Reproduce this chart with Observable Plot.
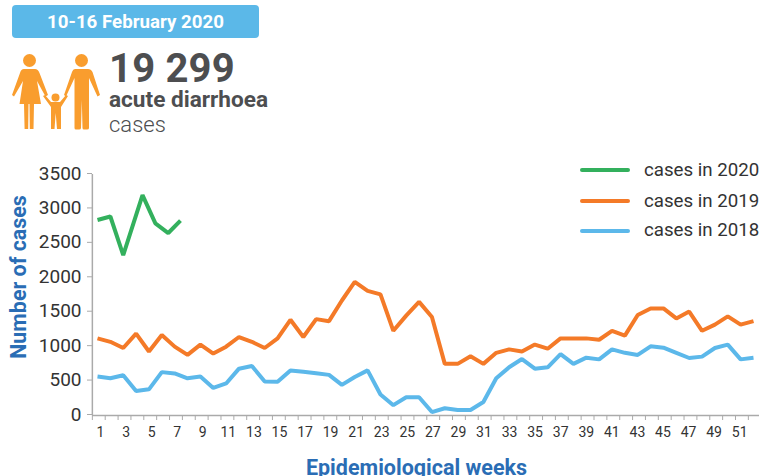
<!DOCTYPE html>
<html>
<head>
<meta charset="utf-8">
<script src="https://cdn.jsdelivr.net/npm/d3@7"></script>
<script src="https://cdn.jsdelivr.net/npm/@observablehq/plot@0.6"></script>
<style>
html,body{margin:0;padding:0;background:#fff;}
body{width:759px;height:476px;position:relative;overflow:hidden;font-family:Roboto,sans-serif;}
#head{position:relative;height:155px;}
#period{position:absolute;left:12px;top:5px;width:247px;height:33px;background:#5bb8e8;border-radius:4px;color:#fff;font-weight:700;font-size:18.7px;line-height:34px;text-align:center;}
#icon{position:absolute;left:0;top:0;}
.t{position:absolute;left:109px;color:#4d4e50;white-space:nowrap;}
#legend div{position:absolute;left:644px;font-size:18.7px;line-height:20px;color:#333;white-space:nowrap;}
#legend i{position:absolute;left:580px;width:50px;height:4px;border-radius:2px;}
#chart{position:absolute;left:0;top:155px;}
</style>
</head>
<body>
<div id="head">
  <div id="period">10-16 February 2020</div>
  <svg id="icon" width="110" height="135" fill="#f99d2e" stroke="none">
    <circle cx="29.5" cy="60.5" r="6.5"/>
    <path d="M24 69 H35 Q38 69 39.5 73 L48 95 L45.5 96.5 L37 81 L41 104 H34 L33.5 129 H29.8 L29.5 104 H28.5 L28.2 129 H24.6 L24 104 H19.5 L23 81 L14 96.5 L12 95 L20 73 Q21 69 24 69 Z"/>
    <circle cx="81.5" cy="60.5" r="6.5"/>
    <path d="M75 69 H88 Q91 69 92.5 72 L100 95 L97.5 96.5 L89 78 V128 Q89 129.5 87 129.5 H84 Q82.5 129.5 82.5 128 L81.8 100 L81 128 Q81 129.5 79 129.5 H76 Q74.5 129.5 74.5 128 V78 L66 96.5 L64 95 L72 72 Q73 69 75 69 Z"/>
    <circle cx="55.5" cy="97.5" r="4"/>
    <path d="M43 96 L45 95 L51 102 H60 L66 95 L68 96 L61 107 V129 H57 L55.7 113 L54.5 129 H51 V107 Z"/>
  </svg>
  <div class="t" style="top:50px;font-size:40px;line-height:38px;font-weight:700;letter-spacing:.2px;">19 299</div>
  <div class="t" style="top:88px;font-size:22.6px;line-height:24px;font-weight:700;">acute diarrhoea</div>
  <div class="t" style="top:113px;font-size:22px;line-height:24px;font-weight:300;">cases</div>
</div>
<div id="chart"></div>
<div id="legend">
  <i style="top:168px;background:#33b05d"></i><div style="top:160px">cases in 2020</div>
  <i style="top:199px;background:#f47a28"></i><div style="top:191px">cases in 2019</div>
  <i style="top:229px;background:#5cb8ea"></i><div style="top:220px">cases in 2018</div>
</div>
<script>
const weeks = d3.range(1, 53);
const weeks2020 = [1, 2, 3, 4.5, 5.5, 6.5, 7.45];
const cases2020 = [2840, 2890, 2330, 3200, 2790, 2650, 2830];
const cases2019 = [1120,1070,980,1190,930,1170,1000,880,1030,900,1000,1140,1070,980,1120,1390,1140,1400,1370,1670,1940,1810,1760,1230,1450,1650,1430,750,750,860,750,910,960,930,1030,970,1120,1120,1120,1100,1230,1160,1460,1555,1555,1410,1510,1230,1320,1440,1320,1370];
const cases2018 = [565,540,585,355,380,630,610,540,565,400,465,680,720,495,490,655,635,615,590,445,560,655,305,150,265,265,50,105,80,80,195,540,700,820,680,700,890,750,840,815,960,910,880,1005,985,910,835,855,980,1030,815,840];
const yTicks = [0,500,1000,1500,2000,2500,3000,3500];
const weekLabels = d3.range(1, 53, 2);
const tickWeeks = d3.range(0.6, 53, 1);

const line = (xs, ys, stroke) => Plot.line(ys.map((v, i) => ({w: xs[i], v})),
  {x: "w", y: "v", stroke, strokeWidth: 4, strokeLinejoin: "miter", strokeLinecap: "butt"});

const chart = Plot.plot({
  width: 759, height: 321,
  marginLeft: 92, marginRight: 0, marginTop: 19, marginBottom: 61,
  style: {fontFamily: "Roboto, sans-serif", background: "transparent", overflow: "visible"},
  x: {domain: [1, 52], range: [97, 753]},
  y: {domain: [0, 3500]},
  marks: [
    Plot.ruleY([0], {stroke: "#aaa", strokeWidth: 1.5}),
    Plot.ruleX([0.6], {y1: 0, y2: 3500, stroke: "#aaa", strokeWidth: 1.5}),
    Plot.axisX({ticks: tickWeeks, tickSize: 5, tickFormat: () => "", stroke: "#aaa", label: null}),
    Plot.axisY({ticks: yTicks, tickSize: 5, tickPadding: 6, fontSize: 19, dy: -1, stroke: "#aaa", color: "#333", label: null, tickFormat: d => String(d)}),
    Plot.text(weekLabels, {
      x: d => 1.233 + (d - 1) * 0.9938, y: 0, text: d => String(d),
      dy: 17, fontSize: 14, fill: "#333"
    }),
    line(weeks, cases2018, "#5cb8ea"),
    line(weeks, cases2019, "#f47a28"),
    line(weeks2020, cases2020, "#33b05d"),
    Plot.text(["Number of cases"], {
      x: () => 0.6, y: () => 1750, dx: -73, dy: -18, text: d => d, rotate: -90,
      fontSize: 21.4, fontWeight: 700, fill: "#2a6db5"
    }),
    Plot.text(["Epidemiological weeks"], {
      x: () => 25.8, y: () => 0, dy: 53, text: d => d,
      fontSize: 21.5, fontWeight: 700, fill: "#2a6db5"
    })
  ]
});
document.getElementById("chart").append(chart);
</script>
</body>
</html>
